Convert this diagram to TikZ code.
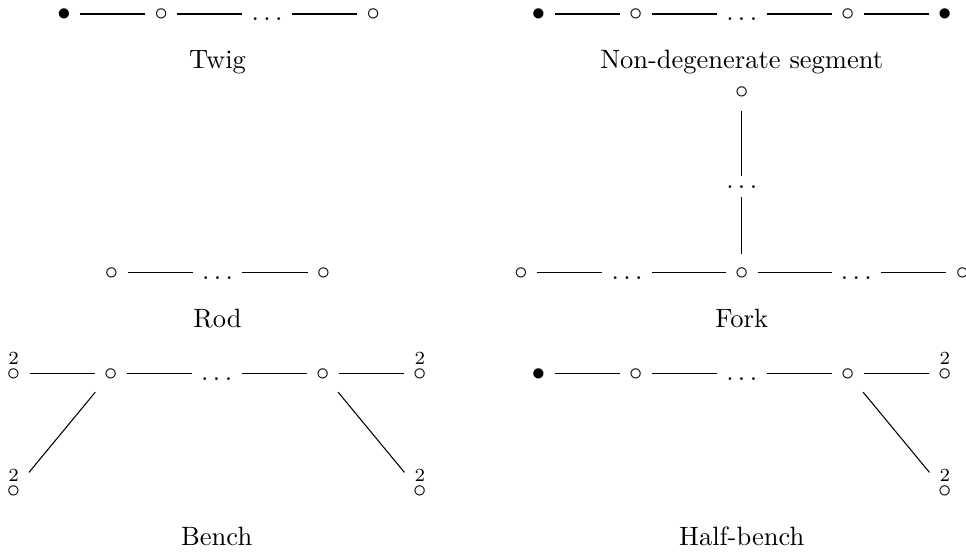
\documentclass[tikz,border=0pt]{standalone}
\usepackage{tikz}
\usetikzlibrary{positioning}

\tikzset{
  vtx/.style={inner sep=.3333em, text height=6pt, text depth=1pt},
  gapv/.style={inner sep=.3333em},
  deg/.style={label={[font=\scriptsize, inner sep=0pt, label distance=-3.8pt]above:$2$}},
  caption/.style={anchor=base},
}

\begin{document}
\begin{tikzpicture}[x=0.3774pt, y=-0.3774pt, node distance=24.6pt]
\useasboundingbox (0,0) rectangle (966,553);

% Twig
\node[vtx] (tw1) at (64,14) {$\bullet$};
\node[vtx, right=of tw1] (tw2) {$\circ$};
\node[vtx, right=of tw2] (tw3) {$\ldots$};
\node[vtx, right=of tw3] (tw4) {$\circ$};
\node[caption] (twlbl) at (217.5,68) {Twig};
\draw (tw1) -- (tw2);
\draw (tw2) -- (tw3);
\draw (tw3) -- (tw4);

% Non-degenerate segment
\node[vtx] (sg3) at (741.7,14) {$\ldots$};
\node[vtx, left=of sg3] (sg2) {$\circ$};
\node[vtx, left=of sg2] (sg1) {$\bullet$};
\node[vtx, right=of sg3] (sg4) {$\circ$};
\node[vtx, right=of sg4] (sg5) {$\bullet$};
\node[caption] (sglbl) at (741.7,68) {Non-degenerate segment};
\draw (sg1) -- (sg2);
\draw (sg2) -- (sg3);
\draw (sg3) -- (sg4);
\draw (sg4) -- (sg5);

% Rod
\node[vtx] (rd2) at (217.5,272.7) {$\ldots$};
\node[vtx, left=of rd2] (rd1) {$\circ$};
\node[vtx, right=of rd2] (rd3) {$\circ$};
\node[caption] (rdlbl) at (217.5,327) {Rod};
\draw (rd1) -- (rd2);
\draw (rd2) -- (rd3);

% Fork
\node[vtx] (fk3) at (741.7,272.7) {$\circ$};
\node[vtx, left=27.9pt of fk3] (fk2) {$\ldots$};
\node[vtx, left=of fk2] (fk1) {$\circ$};
\node[vtx, right=27.9pt of fk3] (fk4) {$\ldots$};
\node[vtx, right=of fk4] (fk5) {$\circ$};
\node[gapv, above=21.4pt of fk3] (fk6) {$\ldots$};
\node[vtx, above=of fk6] (fk7) {$\circ$};
\node[caption] (fklbl) at (741.7,327) {Fork};
\draw (fk1) -- (fk2);
\draw (fk2) -- (fk3);
\draw (fk3) -- (fk4);
\draw (fk4) -- (fk5);
\draw (fk7) -- (fk6);
\draw (fk6) -- (fk3);

% Bench
\node[vtx] (bn3) at (216.7,373.5) {$\ldots$};
\node[vtx, left=of bn3] (bn2) {$\circ$};
\node[vtx, deg, left=of bn2] (bn1) {$\circ$};
\node[vtx, right=of bn3] (bn4) {$\circ$};
\node[vtx, deg, right=of bn4] (bn5) {$\circ$};
\node[vtx, deg, below=30.3pt of bn1] (bn6) {$\circ$};
\node[vtx, deg, below=30.3pt of bn5] (bn7) {$\circ$};
\node[caption] (bnlbl) at (216.7,545) {Bench};
\draw (bn1) -- (bn2);
\draw (bn2) -- (bn3);
\draw (bn3) -- (bn4);
\draw (bn4) -- (bn5);
\draw (bn2) -- (bn6);
\draw (bn4) -- (bn7);

% Half-bench
\node[vtx] (hb3) at (741.7,373.5) {$\ldots$};
\node[vtx, left=of hb3] (hb2) {$\circ$};
\node[vtx, left=of hb2] (hb1) {$\bullet$};
\node[vtx, right=of hb3] (hb4) {$\circ$};
\node[vtx, deg, right=of hb4] (hb5) {$\circ$};
\node[vtx, deg, below=30.3pt of hb5] (hb6) {$\circ$};
\node[caption] (hblbl) at (741.7,545) {Half-bench};
\draw (hb1) -- (hb2);
\draw (hb2) -- (hb3);
\draw (hb3) -- (hb4);
\draw (hb4) -- (hb5);
\draw (hb4) -- (hb6);
\end{tikzpicture}
\end{document}
